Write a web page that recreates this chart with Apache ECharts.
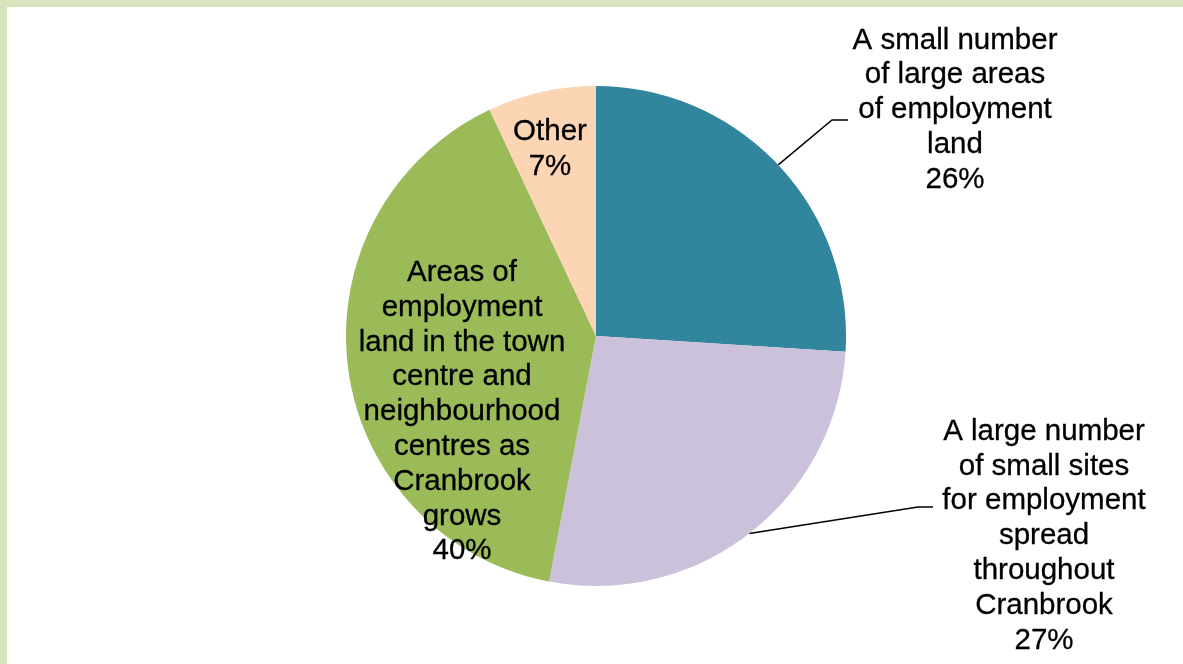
<!DOCTYPE html>
<html>
<head>
<meta charset="utf-8">
<script src="https://cdn.jsdelivr.net/npm/echarts@6/dist/echarts.min.js"></script>
<style>
  html, body { margin: 0; padding: 0; background: #ffffff; }
  #frame {
    position: absolute; left: 0; top: 0; width: 1176px; height: 657px;
    border-top: 7px solid #d7e4bd; border-left: 7px solid #d7e4bd;
  }
  #chart { position: absolute; left: 0; top: 0; width: 1183px; height: 664px; }
</style>
</head>
<body>
<div id="frame"></div>
<div id="chart"></div>
<script>
// Categories (label text keeps its line breaks) and shares in percent
const categories = [
  'A small number\nof large areas\nof employment\nland',
  'A large number\nof small sites\nfor employment\nspread\nthroughout\nCranbrook',
  'Areas of\nemployment\nland in the town\ncentre and\nneighbourhood\ncentres as\nCranbrook\ngrows',
  'Other'
];
const shares = [26, 27, 40, 7];
const colors = ['#31859c', '#ccc1da', '#9bbb59', '#fcd5b5'];

// Where each label block sits (centre of the text block) and, for the
// outside labels, the bend and end of the leader line.
const labelPlace = [
  { x: 955, y: 110, bend: [832, 120], end: [848, 120] },
  { x: 1044, y: 536, bend: [918, 507], end: [933, 507] },
  { x: 462, y: 412 },
  { x: 550, y: 149 }
];

const chart = echarts.init(document.getElementById('chart'), null, { renderer: 'canvas' });

const data = categories.map((name, i) => {
  const item = { name: name, value: shares[i], itemStyle: { color: colors[i] } };
  if (!labelPlace[i].bend) {
    item.label = { position: 'inside' };
    item.labelLine = { show: false };
  }
  return item;
});

chart.setOption({
  backgroundColor: 'transparent',
  animation: false,
  series: [{
    type: 'pie',
    center: [596, 336],
    radius: 250,
    startAngle: 90,
    clockwise: true,
    avoidLabelOverlap: false,
    data: data,
    itemStyle: { borderWidth: 0 },
    emphasis: { disabled: true },
    label: {
      show: true,
      position: 'outside',
      formatter: p => p.name + '\n' + p.value + '%',
      fontFamily: '"Liberation Sans", Arial, sans-serif',
      fontSize: 29.5,
      lineHeight: 34.8,
      color: '#000000',
      textBorderColor: '#000000',
      textBorderWidth: 0.3,
      align: 'center'
    },
    labelLine: {
      show: true,
      lineStyle: { color: '#000000', width: 1.5 }
    },
    labelLayout: function (params) {
      const place = labelPlace[params.dataIndex];
      const out = { x: place.x, y: place.y, align: 'center', verticalAlign: 'middle' };
      if (place.bend && params.labelLinePoints) {
        const start = params.labelLinePoints[0];
        out.labelLinePoints = [start, place.bend, place.end];
      }
      return out;
    }
  }]
});
</script>
</body>
</html>
